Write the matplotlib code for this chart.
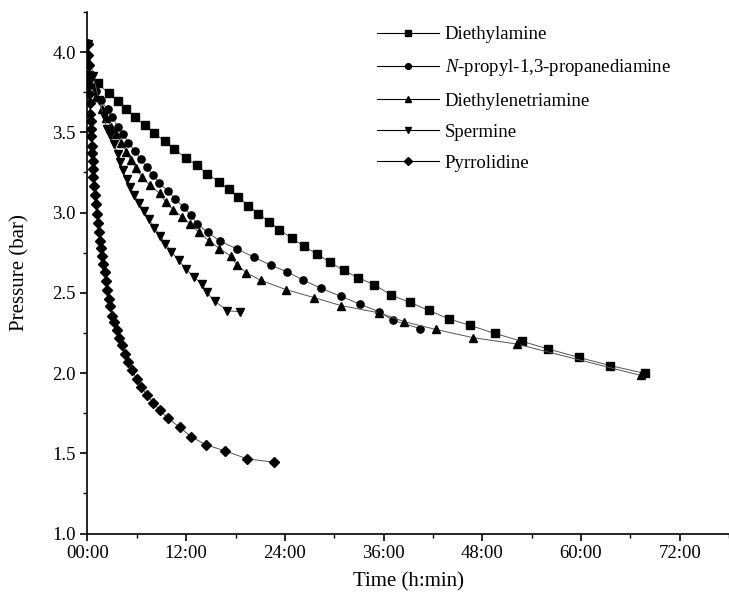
import matplotlib
matplotlib.use("Agg")
import matplotlib.pyplot as plt
from matplotlib.ticker import MultipleLocator, FuncFormatter

# Values: time in hours, pressure in bar
diethylamine_t = [0.2, 1.27, 2.57, 3.67, 4.70, 5.74, 6.95, 8.13, 9.37, 10.56, 11.95, 13.29,
                  14.56, 15.96, 17.17, 18.30, 19.56, 20.78, 22.06, 23.33, 24.85, 26.31,
                  27.89, 29.43, 31.13, 32.95, 34.85, 36.92, 39.17, 41.48, 43.96, 46.54,
                  49.54, 52.89, 56.01, 59.77, 63.53, 67.74]
diethylamine_p = [3.86, 3.806, 3.743, 3.695, 3.647, 3.597, 3.546, 3.496, 3.444, 3.394, 3.342,
                  3.294, 3.243, 3.192, 3.144, 3.096, 3.044, 2.994, 2.944, 2.894, 2.840, 2.790,
                  2.743, 2.693, 2.640, 2.593, 2.551, 2.486, 2.441, 2.391, 2.337, 2.297, 2.247,
                  2.197, 2.150, 2.097, 2.047, 1.998]

propyl_t = [0.3, 1.0, 1.6, 2.45, 3.01, 3.67, 4.34, 4.95, 5.76, 6.46, 7.18, 7.99, 8.74, 9.73,
            10.70, 11.69, 12.58, 13.37, 14.60, 16.12, 18.23, 20.23, 22.27, 24.24, 26.18,
            28.34, 30.83, 33.19, 35.4, 37.20, 40.44]
propyl_p = [3.84, 3.76, 3.70, 3.643, 3.598, 3.536, 3.492, 3.436, 3.383, 3.336, 3.283, 3.232,
            3.184, 3.136, 3.084, 3.033, 2.983, 2.928, 2.878, 2.822, 2.772, 2.723, 2.672,
            2.632, 2.581, 2.529, 2.478, 2.428, 2.383, 2.328, 2.277]

triamine_t = [0.3, 1.0, 1.72, 2.25, 2.85, 3.52, 4.13, 4.73, 5.28, 5.89, 6.61, 7.58, 8.80, 9.49,
              10.41, 11.50, 12.44, 13.56, 14.74, 16.04, 17.42, 18.14, 19.32, 21.14, 24.13,
              27.57, 30.85, 35.50, 38.53, 42.34, 46.93, 52.18, 67.29]
triamine_p = [3.80, 3.72, 3.648, 3.592, 3.536, 3.488, 3.436, 3.380, 3.325, 3.275, 3.222,
              3.172, 3.119, 3.067, 3.019, 2.974, 2.930, 2.876, 2.826, 2.776, 2.728, 2.676,
              2.624, 2.577, 2.520, 2.470, 2.420, 2.375, 2.320, 2.272, 2.220, 2.181, 1.985]

spermine_t = [0.05, 0.7, 1.4, 2.0, 2.33, 2.73, 3.22, 3.67, 3.94, 4.27, 4.76, 5.22, 5.64, 6.29,
              6.83, 7.46, 8.07, 8.86, 9.44, 10.19, 11.07, 11.95, 12.96, 13.93, 14.48, 15.47,
              17.01, 18.59]
spermine_p = [4.05, 3.85, 3.70, 3.60, 3.523, 3.481, 3.425, 3.367, 3.315, 3.265, 3.207, 3.160,
              3.110, 3.059, 3.009, 2.959, 2.907, 2.857, 2.807, 2.757, 2.703, 2.649, 2.597,
              2.556, 2.504, 2.448, 2.389, 2.381]

pyrrolidine_t = [0.06, 0.10, 0.13, 0.17, 0.21, 0.24, 0.28, 0.33, 0.38, 0.42, 0.46, 0.51, 0.57,
                 0.63, 0.67, 0.70, 0.76, 0.87, 1.00, 1.12, 1.27, 1.40, 1.52, 1.64, 1.76, 1.92,
                 2.09, 2.21, 2.40, 2.61, 2.77, 3.01, 3.22, 3.54, 3.82, 4.15, 4.55, 4.95, 5.44,
                 5.97, 6.53, 7.18, 7.99, 8.80, 9.81, 11.19, 12.58, 14.36, 16.71, 19.39, 22.67]
pyrrolidine_p = [4.049, 3.981, 3.918, 3.856, 3.793, 3.737, 3.681, 3.612, 3.569, 3.522, 3.475,
                 3.414, 3.369, 3.319, 3.269, 3.219, 3.165, 3.107, 3.051, 2.993, 2.936, 2.880,
                 2.826, 2.780, 2.728, 2.680, 2.628, 2.572, 2.520, 2.464, 2.416, 2.358, 2.316,
                 2.266, 2.218, 2.172, 2.120, 2.066, 2.016, 1.963, 1.913, 1.865, 1.816, 1.767,
                 1.717, 1.663, 1.604, 1.554, 1.515, 1.466, 1.444]

series = [
    ("Diethylamine", diethylamine_t, diethylamine_p, "s"),
    (r"$N$-propyl-1,3-propanediamine", propyl_t, propyl_p, "o"),
    ("Diethylenetriamine", triamine_t, triamine_p, "^"),
    ("Spermine", spermine_t, spermine_p, "v"),
    ("Pyrrolidine", pyrrolidine_t, pyrrolidine_p, "D"),
]

plt.rcParams["font.family"] = ["Liberation Serif", "DejaVu Serif"]
plt.rcParams["mathtext.fontset"] = "custom"
plt.rcParams["mathtext.rm"] = "Liberation Serif"
plt.rcParams["mathtext.it"] = "Liberation Serif:italic"


def main():
    fig = plt.figure(figsize=(7.29, 6.04), dpi=100)
    ax = fig.add_axes([0.12, 0.1167, 0.88, 0.8634])

    for name, t, p, mk in series:
        ms = 5.2 if mk != "D" else 5.0
        ax.plot(t, p, color="#555555", linewidth=0.7, marker=mk, markersize=ms,
                markerfacecolor="black", markeredgecolor="black", label=name)

    ax.set_xlim(0, 78)
    ax.set_ylim(1.0, 4.25)
    ax.xaxis.set_major_locator(MultipleLocator(12))
    ax.xaxis.set_minor_locator(MultipleLocator(6))
    ax.yaxis.set_major_locator(MultipleLocator(0.5))
    ax.yaxis.set_minor_locator(MultipleLocator(0.25))
    ax.xaxis.set_major_formatter(FuncFormatter(lambda v, pos: f"{int(round(v)):02d}:00"))
    ax.yaxis.set_major_formatter(FuncFormatter(lambda v, pos: f"{v:.1f}"))

    for side in ("top", "right"):
        ax.spines[side].set_visible(False)
    for side in ("left", "bottom"):
        ax.spines[side].set_linewidth(1.2)
    ax.tick_params(which="major", direction="out", length=5, width=1.2, labelsize=13.5)
    ax.tick_params(which="minor", direction="out", length=3, width=1.0)

    ax.set_xlabel("Time (h:min)", fontsize=15, labelpad=7)
    ax.set_ylabel("Pressure (bar)", fontsize=15, labelpad=16)

    leg = ax.legend(loc="upper left", bbox_to_anchor=(0.4254, 1.005), frameon=False,
                    fontsize=13.5, handlelength=3.3, handletextpad=0.3,
                    labelspacing=0.75, markerscale=0.8)
    for h in leg.legend_handles:
        h.set_color("black")
        h.set_linewidth(0.8)

    fig.savefig("out.png", dpi=100)


if __name__ == "__main__":
    main()
